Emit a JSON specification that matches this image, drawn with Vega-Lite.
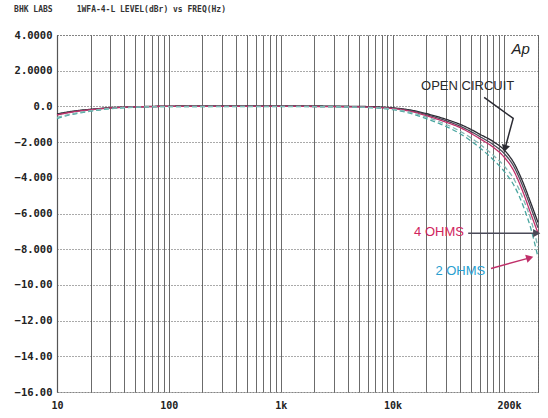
{
  "$schema": "https://vega.github.io/schema/vega-lite/v6.json",
  "width": 481,
  "height": 357,
  "autosize": {"type": "none"},
  "padding": {"left": 57, "top": 35, "right": 10, "bottom": 26},
  "background": "white",
  "view": {"stroke": "#666", "strokeDash": [1, 2], "strokeWidth": 1},
  "title": {
    "text": "BHK LABS\u00a0\u00a0\u00a0\u00a0\u00a01WFA-4-L LEVEL(dBr) vs FREQ(Hz)",
    "anchor": "start",
    "dx": 0,
    "offset": 16,
    "font": "DejaVu Sans Mono",
    "fontSize": 8,
    "fontWeight": "bold",
    "color": "#333"
  },
  "encoding": {
    "x": {
      "field": "f",
      "type": "quantitative",
      "scale": {"type": "log", "domain": [10, 200000], "nice": false},
      "axis": {
        "title": null,
        "values": [10,20,30,40,50,60,70,80,90,100,200,300,400,500,600,700,800,900,1000,2000,3000,4000,5000,6000,7000,8000,9000,10000,20000,30000,40000,50000,60000,70000,80000,90000,100000,200000],
        "labelExpr": "datum.value == 10 ? '10' : datum.value == 100 ? '100' : datum.value == 1000 ? '1k' : datum.value == 10000 ? '10k' : datum.value == 200000 ? '200k' : ''",
        "labelOverlap": false,
        "labelBound": false,
        "labelFlush": false,
        "labelOffset": {"condition": {"test": "datum.value == 200000", "value": -29}, "value": 0},
        "labelFont": "DejaVu Sans Mono",
        "labelFontWeight": "bold",
        "labelFontSize": 10,
        "labelColor": "#222",
        "labelPadding": 8,
        "ticks": false,
        "domain": false,
        "grid": true,
        "gridColor": "#5a5a5a",
        "gridWidth": 0.9,
        "gridOpacity": 1
      }
    },
    "y": {
      "field": "db",
      "type": "quantitative",
      "scale": {"domain": [-16, 4], "nice": false},
      "axis": {
        "title": null,
        "values": [-16,-14,-12,-10,-8,-6,-4,-2,0,2,4],
        "labelExpr": "datum.value == 4 ? '4.0000' : datum.value == 2 ? '2.0000' : datum.value == 0 ? '0.0' : datum.value > -10 ? format(datum.value, '.3f') : format(datum.value, '.2f')",
        "labelFont": "DejaVu Sans Mono",
        "labelFontWeight": "bold",
        "labelFontSize": 10.5,
        "labelColor": "#222",
        "labelPadding": 5,
        "ticks": false,
        "domain": true,
        "domainColor": "#555",
        "domainWidth": 1.2,
        "grid": true,
        "gridColor": "#555",
        "gridDash": [1, 2],
        "gridWidth": 1,
        "gridOpacity": 1
      }
    }
  },
  "layer": [
    {
      "data": {
        "values": [
          {"s": "oc1", "f": 10, "db": -0.42}, {"s": "oc1", "f": 12, "db": -0.33}, {"s": "oc1", "f": 15, "db": -0.24}, {"s": "oc1", "f": 20, "db": -0.16}, {"s": "oc1", "f": 25, "db": -0.11}, {"s": "oc1", "f": 30, "db": -0.07}, {"s": "oc1", "f": 40, "db": -0.04}, {"s": "oc1", "f": 50, "db": -0.02}, {"s": "oc1", "f": 70, "db": 0.0}, {"s": "oc1", "f": 100, "db": 0.02}, {"s": "oc1", "f": 1000, "db": 0.03}, {"s": "oc1", "f": 5000, "db": 0.0}, {"s": "oc1", "f": 10000, "db": -0.08}, {"s": "oc1", "f": 15000, "db": -0.22}, {"s": "oc1", "f": 20000, "db": -0.4}, {"s": "oc1", "f": 30000, "db": -0.72}, {"s": "oc1", "f": 40000, "db": -1.0}, {"s": "oc1", "f": 50000, "db": -1.28}, {"s": "oc1", "f": 60000, "db": -1.55}, {"s": "oc1", "f": 80000, "db": -1.98}, {"s": "oc1", "f": 100000, "db": -2.45}, {"s": "oc1", "f": 120000, "db": -3.1}, {"s": "oc1", "f": 150000, "db": -4.4}, {"s": "oc1", "f": 170000, "db": -5.3}, {"s": "oc1", "f": 200000, "db": -6.5},
          {"s": "oc2", "f": 10, "db": -0.46}, {"s": "oc2", "f": 12, "db": -0.36}, {"s": "oc2", "f": 15, "db": -0.26}, {"s": "oc2", "f": 20, "db": -0.18}, {"s": "oc2", "f": 25, "db": -0.12}, {"s": "oc2", "f": 30, "db": -0.08}, {"s": "oc2", "f": 40, "db": -0.05}, {"s": "oc2", "f": 50, "db": -0.03}, {"s": "oc2", "f": 70, "db": -0.01}, {"s": "oc2", "f": 100, "db": 0.0}, {"s": "oc2", "f": 1000, "db": 0.01}, {"s": "oc2", "f": 5000, "db": -0.02}, {"s": "oc2", "f": 10000, "db": -0.1}, {"s": "oc2", "f": 15000, "db": -0.26}, {"s": "oc2", "f": 20000, "db": -0.46}, {"s": "oc2", "f": 30000, "db": -0.8}, {"s": "oc2", "f": 40000, "db": -1.1}, {"s": "oc2", "f": 50000, "db": -1.4}, {"s": "oc2", "f": 60000, "db": -1.68}, {"s": "oc2", "f": 80000, "db": -2.15}, {"s": "oc2", "f": 100000, "db": -2.65}, {"s": "oc2", "f": 120000, "db": -3.3}, {"s": "oc2", "f": 150000, "db": -4.65}, {"s": "oc2", "f": 170000, "db": -5.55}, {"s": "oc2", "f": 200000, "db": -6.8},
          {"s": "4ohm", "f": 10, "db": -0.48}, {"s": "4ohm", "f": 12, "db": -0.38}, {"s": "4ohm", "f": 15, "db": -0.28}, {"s": "4ohm", "f": 20, "db": -0.19}, {"s": "4ohm", "f": 25, "db": -0.13}, {"s": "4ohm", "f": 30, "db": -0.09}, {"s": "4ohm", "f": 40, "db": -0.05}, {"s": "4ohm", "f": 50, "db": -0.03}, {"s": "4ohm", "f": 70, "db": -0.01}, {"s": "4ohm", "f": 100, "db": 0.0}, {"s": "4ohm", "f": 1000, "db": 0.0}, {"s": "4ohm", "f": 5000, "db": -0.03}, {"s": "4ohm", "f": 10000, "db": -0.12}, {"s": "4ohm", "f": 15000, "db": -0.3}, {"s": "4ohm", "f": 20000, "db": -0.52}, {"s": "4ohm", "f": 30000, "db": -0.88}, {"s": "4ohm", "f": 40000, "db": -1.18}, {"s": "4ohm", "f": 50000, "db": -1.5}, {"s": "4ohm", "f": 60000, "db": -1.8}, {"s": "4ohm", "f": 80000, "db": -2.3}, {"s": "4ohm", "f": 100000, "db": -2.85}, {"s": "4ohm", "f": 120000, "db": -3.55}, {"s": "4ohm", "f": 150000, "db": -4.95}, {"s": "4ohm", "f": 170000, "db": -5.9}, {"s": "4ohm", "f": 200000, "db": -7.1},
          {"s": "2ohm", "f": 10, "db": -0.68}, {"s": "2ohm", "f": 12, "db": -0.53}, {"s": "2ohm", "f": 15, "db": -0.4}, {"s": "2ohm", "f": 20, "db": -0.27}, {"s": "2ohm", "f": 25, "db": -0.19}, {"s": "2ohm", "f": 30, "db": -0.13}, {"s": "2ohm", "f": 40, "db": -0.08}, {"s": "2ohm", "f": 50, "db": -0.05}, {"s": "2ohm", "f": 70, "db": -0.02}, {"s": "2ohm", "f": 100, "db": -0.01}, {"s": "2ohm", "f": 1000, "db": -0.01}, {"s": "2ohm", "f": 5000, "db": -0.05}, {"s": "2ohm", "f": 10000, "db": -0.18}, {"s": "2ohm", "f": 15000, "db": -0.42}, {"s": "2ohm", "f": 20000, "db": -0.68}, {"s": "2ohm", "f": 30000, "db": -1.12}, {"s": "2ohm", "f": 40000, "db": -1.52}, {"s": "2ohm", "f": 50000, "db": -1.92}, {"s": "2ohm", "f": 60000, "db": -2.3}, {"s": "2ohm", "f": 80000, "db": -3.0}, {"s": "2ohm", "f": 100000, "db": -3.65}, {"s": "2ohm", "f": 120000, "db": -4.35}, {"s": "2ohm", "f": 150000, "db": -5.7}, {"s": "2ohm", "f": 170000, "db": -6.7}, {"s": "2ohm", "f": 200000, "db": -8.45},
          {"s": "2ohmb", "f": 10, "db": -0.62}, {"s": "2ohmb", "f": 15, "db": -0.36}, {"s": "2ohmb", "f": 20, "db": -0.24}, {"s": "2ohmb", "f": 30, "db": -0.11}, {"s": "2ohmb", "f": 50, "db": -0.04}, {"s": "2ohmb", "f": 100, "db": -0.01}, {"s": "2ohmb", "f": 1000, "db": 0.0}, {"s": "2ohmb", "f": 5000, "db": -0.04}, {"s": "2ohmb", "f": 10000, "db": -0.15}, {"s": "2ohmb", "f": 15000, "db": -0.36}, {"s": "2ohmb", "f": 20000, "db": -0.6}, {"s": "2ohmb", "f": 30000, "db": -1.0}, {"s": "2ohmb", "f": 40000, "db": -1.38}, {"s": "2ohmb", "f": 50000, "db": -1.75}, {"s": "2ohmb", "f": 60000, "db": -2.1}, {"s": "2ohmb", "f": 80000, "db": -2.75}, {"s": "2ohmb", "f": 100000, "db": -3.35}, {"s": "2ohmb", "f": 120000, "db": -4.0}, {"s": "2ohmb", "f": 150000, "db": -5.3}, {"s": "2ohmb", "f": 170000, "db": -6.2}, {"s": "2ohmb", "f": 200000, "db": -7.9}
        ]
      },
      "mark": {"type": "line", "interpolate": "monotone", "strokeWidth": 1.3},
      "encoding": {
        "detail": {"field": "s"},
        "color": {
          "field": "s",
          "type": "nominal",
          "scale": {"domain": ["oc1", "oc2", "4ohm", "2ohm", "2ohmb"], "range": ["#2b2b33", "#4a4a58", "#c0306a", "#4aa6a0", "#7fb8b4"]},
          "legend": null
        },
        "strokeDash": {
          "field": "s",
          "type": "nominal",
          "scale": {"domain": ["oc1", "oc2", "4ohm", "2ohm", "2ohmb"], "range": [[1, 0], [1, 0], [1, 0], [5, 3], [5, 3]]},
          "legend": null
        }
      }
    },
    {
      "data": {"values": [
        {"a": "oc", "o": 1, "f": 66000, "db": 0.5},
        {"a": "oc", "o": 2, "f": 120000, "db": -0.67},
        {"a": "oc", "o": 3, "f": 102000, "db": -2.3},
        {"a": "o4", "o": 1, "f": 47500, "db": -7.1},
        {"a": "o4", "o": 2, "f": 190000, "db": -7.1},
        {"a": "o2", "o": 1, "f": 76000, "db": -9.08},
        {"a": "o2", "o": 2, "f": 165000, "db": -8.5}
      ]},
      "mark": {"type": "line", "strokeWidth": 1.5},
      "encoding": {
        "detail": {"field": "a"},
        "order": {"field": "o"},
        "color": {"field": "a", "type": "nominal", "scale": {"domain": ["oc", "o4", "o2"], "range": ["#1e1e1e", "#d0245e", "#2a9fd0"]}, "legend": null}
      }
    },
    {
      "data": {"values": [
        {"a": "oc", "f": 102000, "db": -2.3, "ang": 195},
        {"a": "o4", "f": 190000, "db": -7.1, "ang": 90},
        {"a": "o2", "f": 165000, "db": -8.5, "ang": 74}
      ]},
      "mark": {"type": "point", "shape": "triangle", "filled": true, "size": 70, "opacity": 1},
      "encoding": {
        "angle": {"field": "ang", "type": "quantitative", "scale": null},
        "color": {"field": "a", "type": "nominal", "scale": {"domain": ["oc", "o4", "o2"], "range": ["#1e1e1e", "#d0245e", "#2a9fd0"]}, "legend": null}
      }
    },
    {
      "data": {"values": [
        {"t": "OPEN CIRCUIT", "f": 18000, "db": 1.15, "c": "#2a2a2a"}
      ]},
      "mark": {"type": "text", "align": "left", "baseline": "middle", "font": "Liberation Sans", "fontSize": 13, "fontWeight": "normal"},
      "encoding": {"text": {"field": "t"}, "color": {"field": "c", "type": "nominal", "scale": null}}
    },
    {
      "data": {"values": [
        {"t": "4 OHMS", "f": 43500, "db": -7.05, "c": "#d0245e"},
        {"t": "2 OHMS", "f": 67500, "db": -9.2, "c": "#2a9fd0"}
      ]},
      "mark": {"type": "text", "align": "right", "baseline": "middle", "font": "Liberation Sans", "fontSize": 13},
      "encoding": {"text": {"field": "t"}, "color": {"field": "c", "type": "nominal", "scale": null}}
    },
    {
      "data": {"values": [
        {"t": "Ap", "f": 116000, "db": 3.2}
      ]},
      "mark": {"type": "text", "align": "left", "baseline": "middle", "font": "Liberation Sans", "fontSize": 15, "fontStyle": "italic", "color": "#222"},
      "encoding": {"text": {"field": "t"}}
    }
  ]
}
